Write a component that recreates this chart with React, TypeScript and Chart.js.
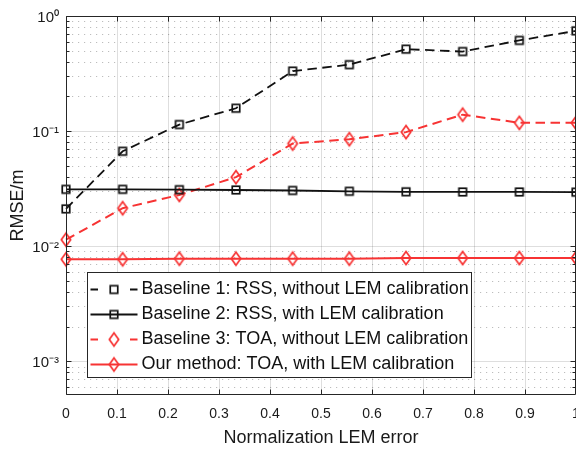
import React, { useEffect, useRef } from "react";
import { Chart, registerables } from "chart.js";

Chart.register(...registerables);

// ---------- data ----------
const xValues = [0, 0.1111, 0.2222, 0.3333, 0.4444, 0.5556, 0.6667, 0.7778, 0.8889, 1.0];
const baseline1 = [0.0211, 0.0668, 0.114, 0.158, 0.332, 0.378, 0.515, 0.491, 0.614, 0.743];
const baseline2 = [0.0312, 0.0312, 0.031, 0.0308, 0.0305, 0.03, 0.0297, 0.0296, 0.0296, 0.0295];
const baseline3 = [0.0114, 0.0214, 0.0279, 0.0398, 0.078, 0.085, 0.098, 0.139, 0.118, 0.118];
const ourMethod = [0.0077, 0.0077, 0.0078, 0.0078, 0.0078, 0.0078, 0.0079, 0.0079, 0.0079, 0.0079];

const seriesLabels = [
  "Baseline 1: RSS, without LEM calibration",
  "Baseline 2: RSS, with LEM calibration",
  "Baseline 3: TOA, without LEM calibration",
  "Our method: TOA, with LEM calibration",
];

const xTickValues = [0, 0.1, 0.2, 0.3, 0.4, 0.5, 0.6, 0.7, 0.8, 0.9, 1];
const xTickLabels = ["0", "0.1", "0.2", "0.3", "0.4", "0.5", "0.6", "0.7", "0.8", "0.9", "1"];
const yMajorTicks = [1e-3, 1e-2, 1e-1, 1];
const yMajorLabels = ["10\u207B\u00B3", "10\u207B\u00B2", "10\u207B\u00B9", "10\u2070"];
const yMinorMultipliers = [2, 3, 4, 5, 6, 7, 8, 9];
const xTitle = "Normalization LEM error";
const yTitle = "RMSE/m";

// ---------- styles ----------
const FONT = "'Liberation Sans', Arial, Helvetica, sans-serif";
const AXIS = "#262626";
const BLACK = "#111111";
const RED = "#f73333";
const Y_MIN = 5.1e-4;
const Y_MAX = 1;

function makeSquare(color: string) {
  const c = document.createElement("canvas");
  c.width = 12;
  c.height = 12;
  const g = c.getContext("2d")!;
  g.strokeStyle = color;
  g.lineWidth = 1.7;
  g.strokeRect(2.25, 2.25, 7.5, 7.5);
  return c;
}

function makeDiamond(color: string) {
  const c = document.createElement("canvas");
  c.width = 14;
  c.height = 18;
  const g = c.getContext("2d")!;
  g.strokeStyle = color;
  g.lineWidth = 1.7;
  g.beginPath();
  g.moveTo(7, 2.4);
  g.lineTo(11.7, 9);
  g.lineTo(7, 15.6);
  g.lineTo(2.3, 9);
  g.closePath();
  g.stroke();
  return c;
}

function yTickValueList() {
  const out: number[] = [];
  for (let e = -4; e <= 0; e++) {
    const base = Math.pow(10, e);
    if (base >= Y_MIN && base <= Y_MAX) out.push(base);
    if (e < 0) {
      for (const m of yMinorMultipliers) {
        const v = m * base;
        if (v >= Y_MIN && v <= Y_MAX) out.push(v);
      }
    }
  }
  return out.sort((a, b) => a - b);
}

function majorIndex(v: number) {
  return yMajorTicks.findIndex((m) => Math.abs(Math.log10(v) - Math.log10(m)) < 1e-6);
}

export default function App() {
  const ref = useRef<HTMLCanvasElement | null>(null);

  useEffect(() => {
    if (!ref.current) return;
    const sq = makeSquare(BLACK);
    const dia = makeDiamond(RED);

    const seriesValues = [baseline1, baseline2, baseline3, ourMethod];
    const styles = [
      { color: BLACK, dash: [9.5, 5.5], width: 1.8, marker: sq, dashed: true },
      { color: BLACK, dash: [], width: 1.8, marker: sq, dashed: false },
      { color: RED, dash: [9.5, 5.5], width: 2, marker: dia, dashed: true },
      { color: RED, dash: [], width: 2, marker: dia, dashed: false },
    ];

    const datasets = seriesValues.map((vals, i) => ({
      label: seriesLabels[i],
      data: vals.map((y, j) => ({ x: xValues[j], y })),
      borderColor: styles[i].color,
      borderWidth: styles[i].width,
      borderDash: styles[i].dash,
      pointStyle: styles[i].marker,
      pointRadius: 6,
      pointHoverRadius: 6,
      backgroundColor: "transparent",
      tension: 0,
      clip: false as any,
    }));

    const frame = {
      id: "frame",
      beforeDatasetsDraw(chart: any) {
        const { ctx, chartArea: a, scales } = chart;
        const x = scales.x;
        const y = scales.y;
        ctx.save();
        ctx.lineWidth = 1;
        ctx.strokeStyle = "rgba(0,0,0,0.13)";
        ctx.setLineDash([]);
        for (const t of x.ticks) {
          const px = Math.round(x.getPixelForValue(t.value)) + 0.5;
          ctx.beginPath();
          ctx.moveTo(px, a.top);
          ctx.lineTo(px, a.bottom);
          ctx.stroke();
        }
        for (const t of y.ticks) {
          const py = Math.round(y.getPixelForValue(t.value)) + 0.5;
          if (py > a.bottom - 0.5) continue;
          if (majorIndex(t.value) >= 0) {
            ctx.strokeStyle = "rgba(0,0,0,0.13)";
            ctx.setLineDash([]);
          } else {
            ctx.strokeStyle = "rgba(0,0,0,0.26)";
            ctx.setLineDash([1.2, 4.8]);
          }
          ctx.beginPath();
          ctx.moveTo(a.left, py);
          ctx.lineTo(a.right, py);
          ctx.stroke();
        }
        ctx.restore();
      },
      afterDatasetsDraw(chart: any) {
        const { ctx, chartArea: a, scales } = chart;
        const x = scales.x;
        const y = scales.y;
        ctx.save();
        ctx.strokeStyle = AXIS;
        ctx.lineWidth = 1;
        ctx.setLineDash([]);
        const L = Math.round(a.left) + 0.5;
        const T = Math.round(a.top) + 0.5;
        const B = Math.round(a.bottom) - 0.5;
        const R = Math.round(a.right) - 0.5;
        ctx.beginPath();
        ctx.moveTo(L, T);
        ctx.lineTo(R, T);
        ctx.lineTo(R, B);
        ctx.lineTo(L, B);
        ctx.closePath();
        ctx.stroke();
        ctx.beginPath();
        for (const t of x.ticks) {
          const px = Math.round(x.getPixelForValue(t.value)) + 0.5;
          ctx.moveTo(px, B);
          ctx.lineTo(px, B - 5);
          ctx.moveTo(px, T);
          ctx.lineTo(px, T + 5);
        }
        for (const t of y.ticks) {
          const py = Math.round(y.getPixelForValue(t.value)) + 0.5;
          const len = majorIndex(t.value) >= 0 ? 5 : 3;
          ctx.moveTo(L, py);
          ctx.lineTo(L + len, py);
          ctx.moveTo(R, py);
          ctx.lineTo(R - len, py);
        }
        ctx.stroke();
        ctx.restore();
      },
      afterDraw(chart: any) {
        const { ctx, chartArea: a } = chart;
        const left = a.left + 21.5;
        const top = 272.5;
        const w = 384;
        const h = 105;
        ctx.save();
        ctx.fillStyle = "#ffffff";
        ctx.fillRect(left, top, w, h);
        ctx.strokeStyle = AXIS;
        ctx.lineWidth = 1;
        ctx.setLineDash([]);
        ctx.strokeRect(left, top, w, h);
        ctx.font = `18px ${FONT}`;
        ctx.textBaseline = "middle";
        ctx.textAlign = "left";
        chart.data.datasets.forEach((ds: any, i: number) => {
          const st = styles[i];
          const cy = Math.round(top + 16.5 + i * 25) + 0.5;
          const x0 = left + 3;
          const x1 = left + 50;
          ctx.strokeStyle = st.color;
          ctx.lineWidth = st.width;
          ctx.setLineDash(st.dashed ? [7.5, 32] : []);
          ctx.beginPath();
          ctx.moveTo(x0, cy);
          ctx.lineTo(x1, cy);
          ctx.stroke();
          const m = st.marker;
          ctx.drawImage(m, (x0 + x1) / 2 - m.width / 2, cy - m.height / 2);
          ctx.fillStyle = "#111111";
          ctx.fillText(ds.label, left + 54, cy);
        });
        ctx.restore();
      },
    };

    const chart = new Chart(ref.current, {
      type: "line",
      data: { datasets: datasets as any },
      options: {
        animation: false,
        responsive: false,
        layout: { padding: { top: 9, right: 24, left: 0, bottom: 0 } },
        plugins: { legend: { display: false }, tooltip: { enabled: false } },
        events: [],
        scales: {
          x: {
            type: "linear",
            min: 0,
            max: 1,
            afterBuildTicks: (s: any) => {
              s.ticks = xTickValues.map((v) => ({ value: v }));
            },
            afterFit: (s: any) => {
              s.height = 56;
            },
            grid: { display: false, drawTicks: false },
            border: { display: false },
            ticks: {
              autoSkip: false,
              maxRotation: 0,
              minRotation: 0,
              padding: 11,
              color: "#1a1a1a",
              font: { family: FONT, size: 14 },
              callback: (_v: any, i: number) => xTickLabels[i],
            },
            title: {
              display: true,
              text: xTitle,
              color: "#1a1a1a",
              font: { family: FONT, size: 18 },
              padding: { top: 0, bottom: 2 },
            },
          },
          y: {
            type: "logarithmic",
            min: Y_MIN,
            max: Y_MAX,
            afterBuildTicks: (s: any) => {
              s.ticks = yTickValueList().map((v) => ({ value: v }));
            },
            afterFit: (s: any) => {
              s.width = 66;
            },
            grid: { display: false, drawTicks: false },
            border: { display: false },
            ticks: {
              autoSkip: false,
              padding: 7,
              labelOffset: 2,
              color: "#1a1a1a",
              font: { family: FONT, size: 15 },
              callback: (v: any) => {
                const k = majorIndex(Number(v));
                return k >= 0 ? yMajorLabels[k] : "";
              },
            },
            title: {
              display: true,
              text: yTitle,
              color: "#1a1a1a",
              font: { family: FONT, size: 18 },
              padding: { top: 7, bottom: 0 },
            },
          },
        },
      },
      plugins: [frame],
    });

    return () => chart.destroy();
  }, []);

  return (
    <div
      style={{
        position: "absolute",
        left: 0,
        top: 0,
        width: 576,
        height: 451,
        overflow: "hidden",
        background: "#ffffff",
      }}
    >
      <canvas ref={ref} width={600} height={451} style={{ display: "block" }} />
    </div>
  );
}
